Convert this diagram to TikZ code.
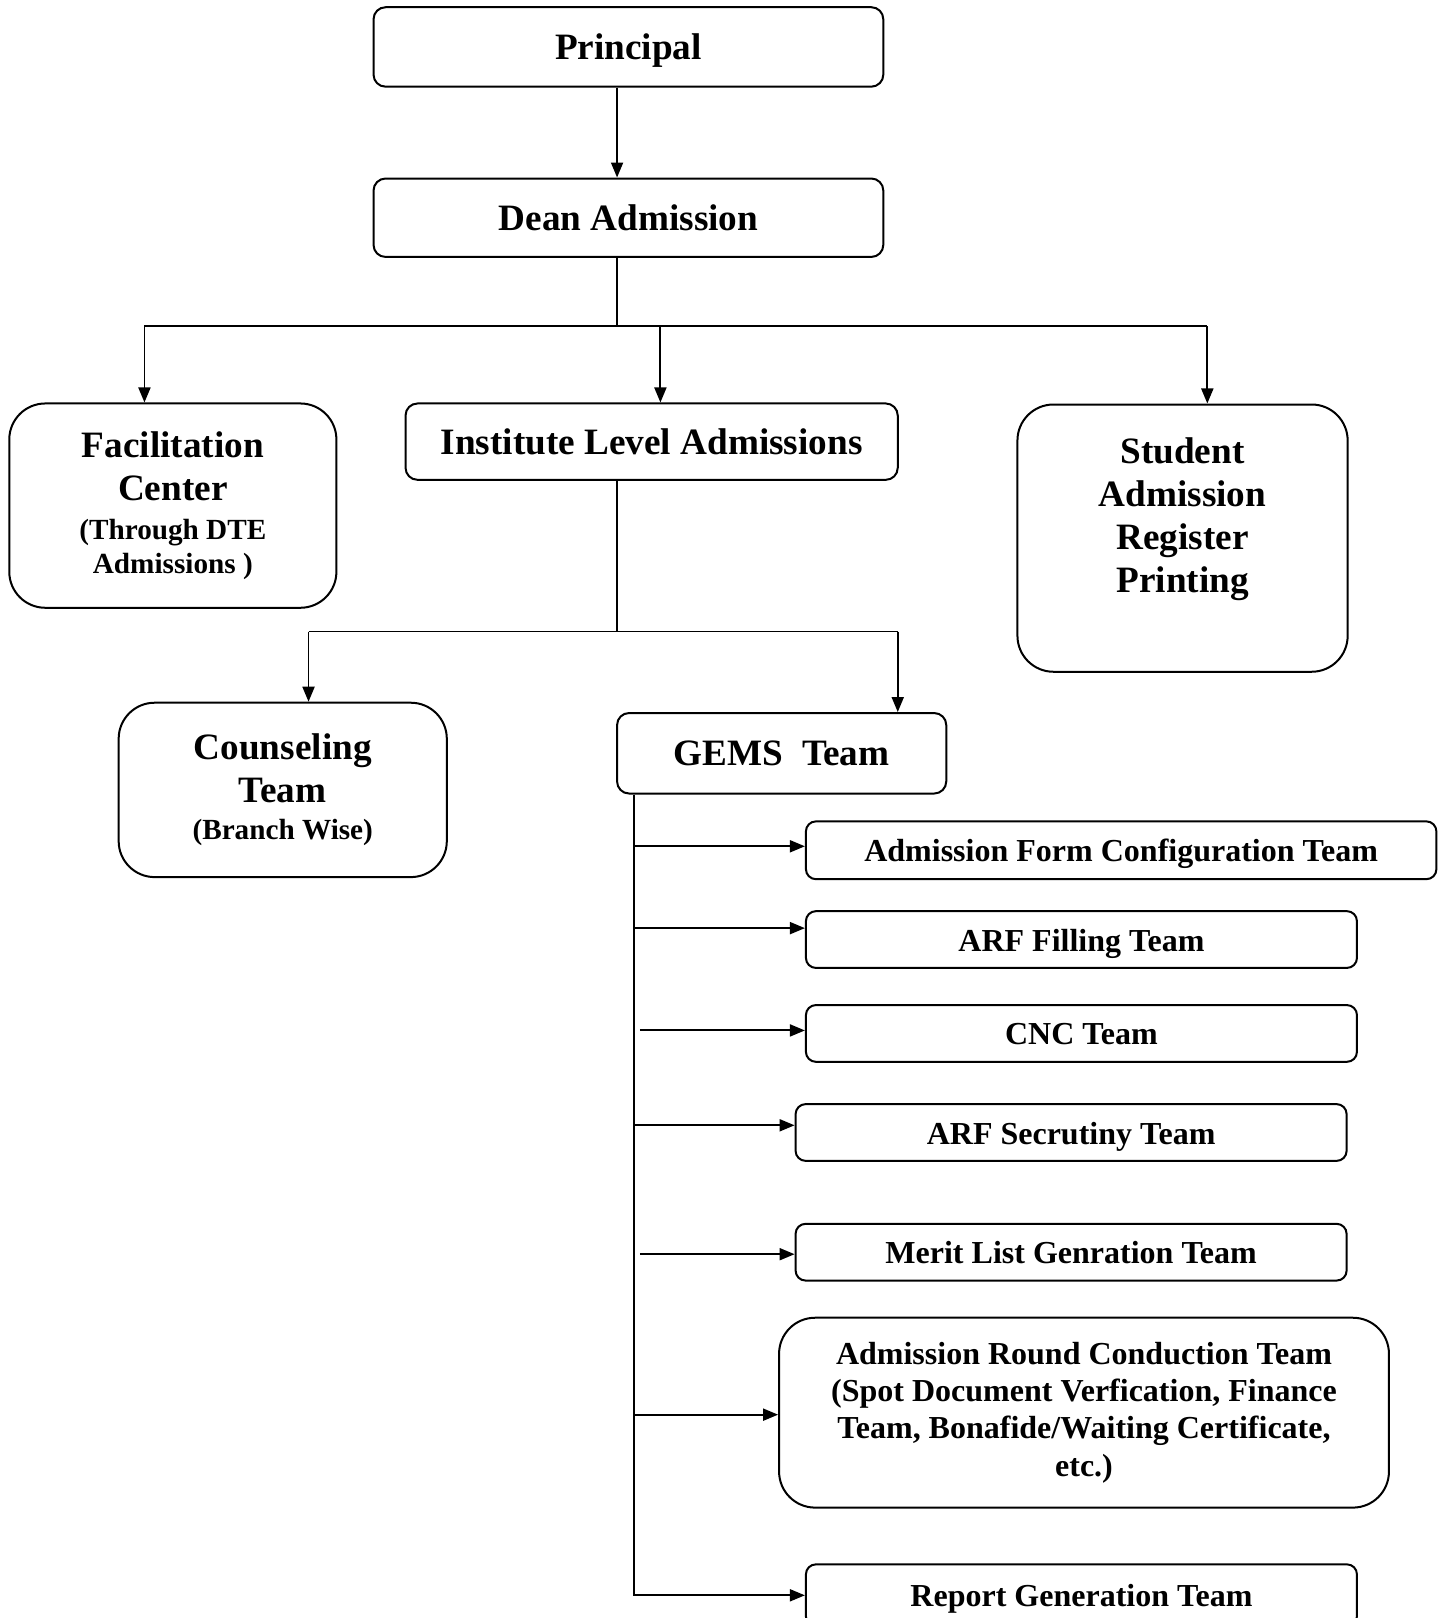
\documentclass[tikz,border=0pt]{standalone}
\usepackage{fontspec}
\setmainfont{Liberation Serif}
\usetikzlibrary{arrows.meta}
\newcommand{\pxu}{0.5158pt}
\newcommand{\bigf}{\fontsize{18.6}{21.6}\selectfont}
\newcommand{\smf}{\fontsize{14.6}{17}\selectfont}
\newcommand{\teamf}{\fontsize{16}{18.6}\selectfont}
\begin{document}
\begin{tikzpicture}[x=\pxu, y=-\pxu,
  box/.style={draw, line width=1pt, rounded corners=6pt, align=center, inner sep=0pt, font=\bfseries\bigf},
  rbox/.style={box, rounded corners=18pt},
  tbox/.style={box, rounded corners=5pt, font=\bfseries\teamf},
  onel/.style={text height=13pt, text depth=1.5pt},
  txt/.style={align=center, inner sep=0pt, font=\bfseries\bigf},
  arr/.style={-{Triangle[length=7.5pt,width=6pt]}, line width=0.95pt},
  ln/.style={line width=0.95pt}]
\useasboundingbox (0,0) rectangle (1394,1568);
% top nodes
\node[box, onel, text height=14pt, minimum width=494*\pxu, minimum height=77*\pxu] (prin) at (609,45.5) {Principal};
\node[box, minimum width=494*\pxu, minimum height=76*\pxu] (dean) at (609,211) {Dean Admission};
\node[box, minimum width=477*\pxu, minimum height=74*\pxu] (inst) at (631.5,428) {Institute Level Admissions};
\node[rbox, minimum width=317*\pxu, minimum height=198*\pxu] (fac) at (167.5,490)
  {Facilitation\\Center\\[-2.5pt]\smf (Through DTE\\[-4.6pt]\smf Admissions )};
\node[rbox, minimum width=320*\pxu, minimum height=259*\pxu] (stu) at (1146,521.5) {};
\node[txt] (stutxt) at (1146,503) {Student\\Admission\\Register\\Printing};
\node[rbox, minimum width=318*\pxu, minimum height=169*\pxu] (coun) at (274,765.5)
  {Counseling\\Team\\[-3pt]\smf (Branch Wise)};
\node[box, minimum width=319*\pxu, minimum height=78*\pxu] (gems) at (757.5,730) {GEMS\ \ Team};
% team boxes
\node[tbox, onel, minimum width=611*\pxu, minimum height=56*\pxu] (afc) at (1086.5,824) {Admission Form Configuration Team};
\node[tbox, onel, minimum width=534*\pxu, minimum height=55*\pxu] (arff) at (1048,910.5) {ARF Filling Team};
\node[tbox, onel, minimum width=534*\pxu, minimum height=55*\pxu] (cnc) at (1048,1001.5) {CNC Team};
\node[tbox, onel, minimum width=534*\pxu, minimum height=55*\pxu] (arfs) at (1038,1097.5) {ARF Secrutiny Team};
\node[tbox, onel, minimum width=534*\pxu, minimum height=55*\pxu] (merit) at (1038,1213.5) {Merit List Genration Team};
\node[tbox, rounded corners=18pt, minimum width=591*\pxu, minimum height=184*\pxu] (round) at (1050.5,1369)
  {Admission Round Conduction Team\\(Spot Document Verfication, Finance\\Team, Bonafide/Waiting Certificate,\\etc.)};
\node[tbox, onel, minimum width=534*\pxu, minimum height=60*\pxu] (rep) at (1048,1546) {Report Generation Team};
% junction coordinates
\coordinate (j1) at (598,316);
\coordinate (hl) at (140,316);
\coordinate (hm) at (640,316);
\coordinate (hr) at (1170,316);
\coordinate (j2) at (598,612);
\coordinate (bl) at (299,612);
\coordinate (br) at (870,612);
\coordinate (gl) at (614,0);
\coordinate (gl2) at (620,0);
% connectors
\draw[arr] (prin.south -| j1) -- (dean.north -| j1);
\draw[ln] (dean.south -| j1) -- (j1);
\draw[ln] (hl) -- (hr);
\draw[arr] (hl) -- (fac.north -| hl);
\draw[arr] (hm) -- (inst.north -| hm);
\draw[arr] (hr) -- (stu.north -| hr);
\draw[ln] (inst.south -| j2) -- (j2);
\draw[ln] (bl) -- (br);
\draw[arr] (bl) -- (coun.north -| bl);
\draw[arr] (br) -- (gems.north -| br);
\draw[arr] (gems.south -| gl) -- (rep.west -| gl) -- (rep.west);
\draw[arr] ([yshift=2pt]afc.west -| gl) -- ([yshift=2pt]afc.west);
\draw[arr] ([yshift=5.7pt]arff.west -| gl) -- ([yshift=5.7pt]arff.west);
\draw[arr] ([yshift=1.5pt]cnc.west -| gl2) -- ([yshift=1.5pt]cnc.west);
\draw[arr] ([yshift=3.6pt]arfs.west -| gl) -- ([yshift=3.6pt]arfs.west);
\draw[arr] ([yshift=-1pt]merit.west -| gl2) -- ([yshift=-1pt]merit.west);
\draw[arr] ([yshift=-1pt]round.west -| gl) -- ([yshift=-1pt]round.west);
\end{tikzpicture}
\end{document}
